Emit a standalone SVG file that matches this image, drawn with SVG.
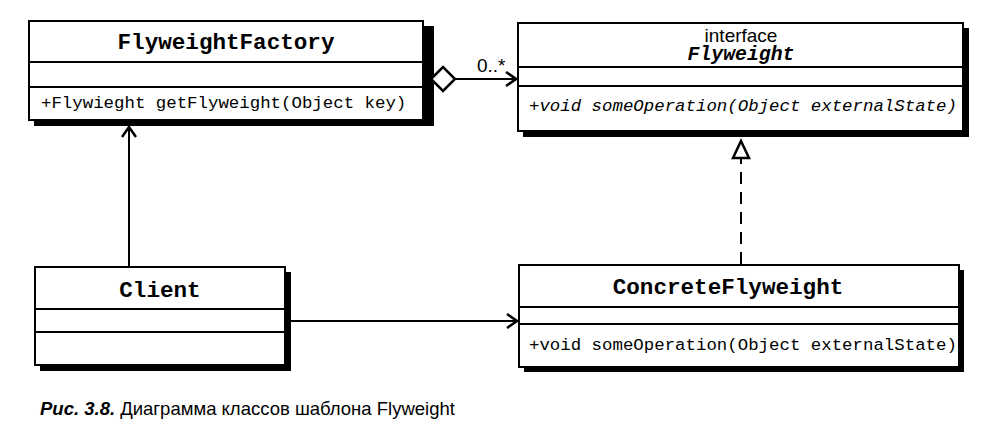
<svg xmlns="http://www.w3.org/2000/svg" width="1000" height="440" viewBox="0 0 1000 440">
<style>
.box{fill:#fff;stroke:#000;stroke-width:2}
.sh{fill:#000}
.div{stroke:#000;stroke-width:2}
.name{font-family:"Liberation Mono","Courier New",monospace;font-weight:bold;font-size:22.6px;text-anchor:middle;fill:#000}
.op{font-family:"Liberation Mono","Courier New",monospace;font-size:17.4px;fill:#000}
.sans{font-family:"Liberation Sans",Arial,sans-serif;fill:#000}
.ln{stroke:#000;stroke-width:2;fill:none}
</style>
<defs>
<marker id="open" markerWidth="14" markerHeight="16" refX="12" refY="8" orient="auto" markerUnits="userSpaceOnUse">
<path d="M2,1 L12,8 L2,15" fill="none" stroke="#000" stroke-width="2.5"/>
</marker>
</defs>
<rect width="1000" height="440" fill="#fff"/>

<g id="FlyweightFactory">
<rect class="sh" x="34" y="26" width="400" height="100"/>
<rect class="box" x="29" y="21" width="394" height="99"/>
<line class="div" x1="29" y1="62" x2="423" y2="62"/>
<line class="div" x1="29" y1="87" x2="423" y2="87"/>
<text class="name" x="226" y="49">FlyweightFactory</text>
<text class="op" x="41" y="108">+Flywieght getFlyweight(Object key)</text>
</g>

<g id="Flyweight">
<rect class="sh" x="523" y="28" width="446" height="109"/>
<rect class="box" x="518" y="23" width="445" height="108"/>
<line class="div" x1="518" y1="67" x2="963" y2="67"/>
<line class="div" x1="518" y1="86" x2="963" y2="86"/>
<text class="sans" x="741" y="42" style="font-size:19px" text-anchor="middle">interface</text>
<text class="name" x="741" y="60" style="font-size:19.8px;font-style:italic">Flyweight</text>
<text class="op" x="529" y="111" style="font-style:italic">+void someOperation(Object externalState)</text>
</g>

<g id="Client">
<rect class="sh" x="40" y="272" width="251" height="99"/>
<rect class="box" x="35" y="267" width="250" height="98"/>
<line class="div" x1="35" y1="309" x2="285" y2="309"/>
<line class="div" x1="35" y1="332" x2="285" y2="332"/>
<text class="name" x="160" y="297">Client</text>
</g>

<g id="ConcreteFlyweight">
<rect class="sh" x="524" y="270" width="440" height="102"/>
<rect class="box" x="519" y="265" width="440" height="102"/>
<line class="div" x1="519" y1="307" x2="959" y2="307"/>
<line class="div" x1="519" y1="324" x2="959" y2="324"/>
<text class="name" x="728" y="294">ConcreteFlyweight</text>
<text class="op" x="529" y="350">+void someOperation(Object externalState)</text>
</g>

<g id="connectors">
<path d="M431,79 L443,67 L455,79 L443,91 Z" fill="#fff" stroke="#000" stroke-width="2.5"/>
<line class="ln" x1="455" y1="79" x2="516" y2="79" marker-end="url(#open)"/>
<text class="sans" x="477" y="72" style="font-size:19px">0..*</text>
<line class="ln" x1="129" y1="267" x2="129" y2="127" marker-end="url(#open)"/>
<line class="ln" x1="291" y1="321" x2="517" y2="321" marker-end="url(#open)"/>
<line class="ln" x1="741" y1="264" x2="741" y2="158" stroke-dasharray="12,8"/>
<path d="M741,141 L749,158 L733,158 Z" fill="#fff" stroke="#000" stroke-width="2.5"/>
</g>

<text class="sans" x="40" y="415" style="font-size:18.5px"><tspan font-weight="bold" font-style="italic">Рис. 3.8.</tspan> Диаграмма классов шаблона Flyweight</text>
</svg>
